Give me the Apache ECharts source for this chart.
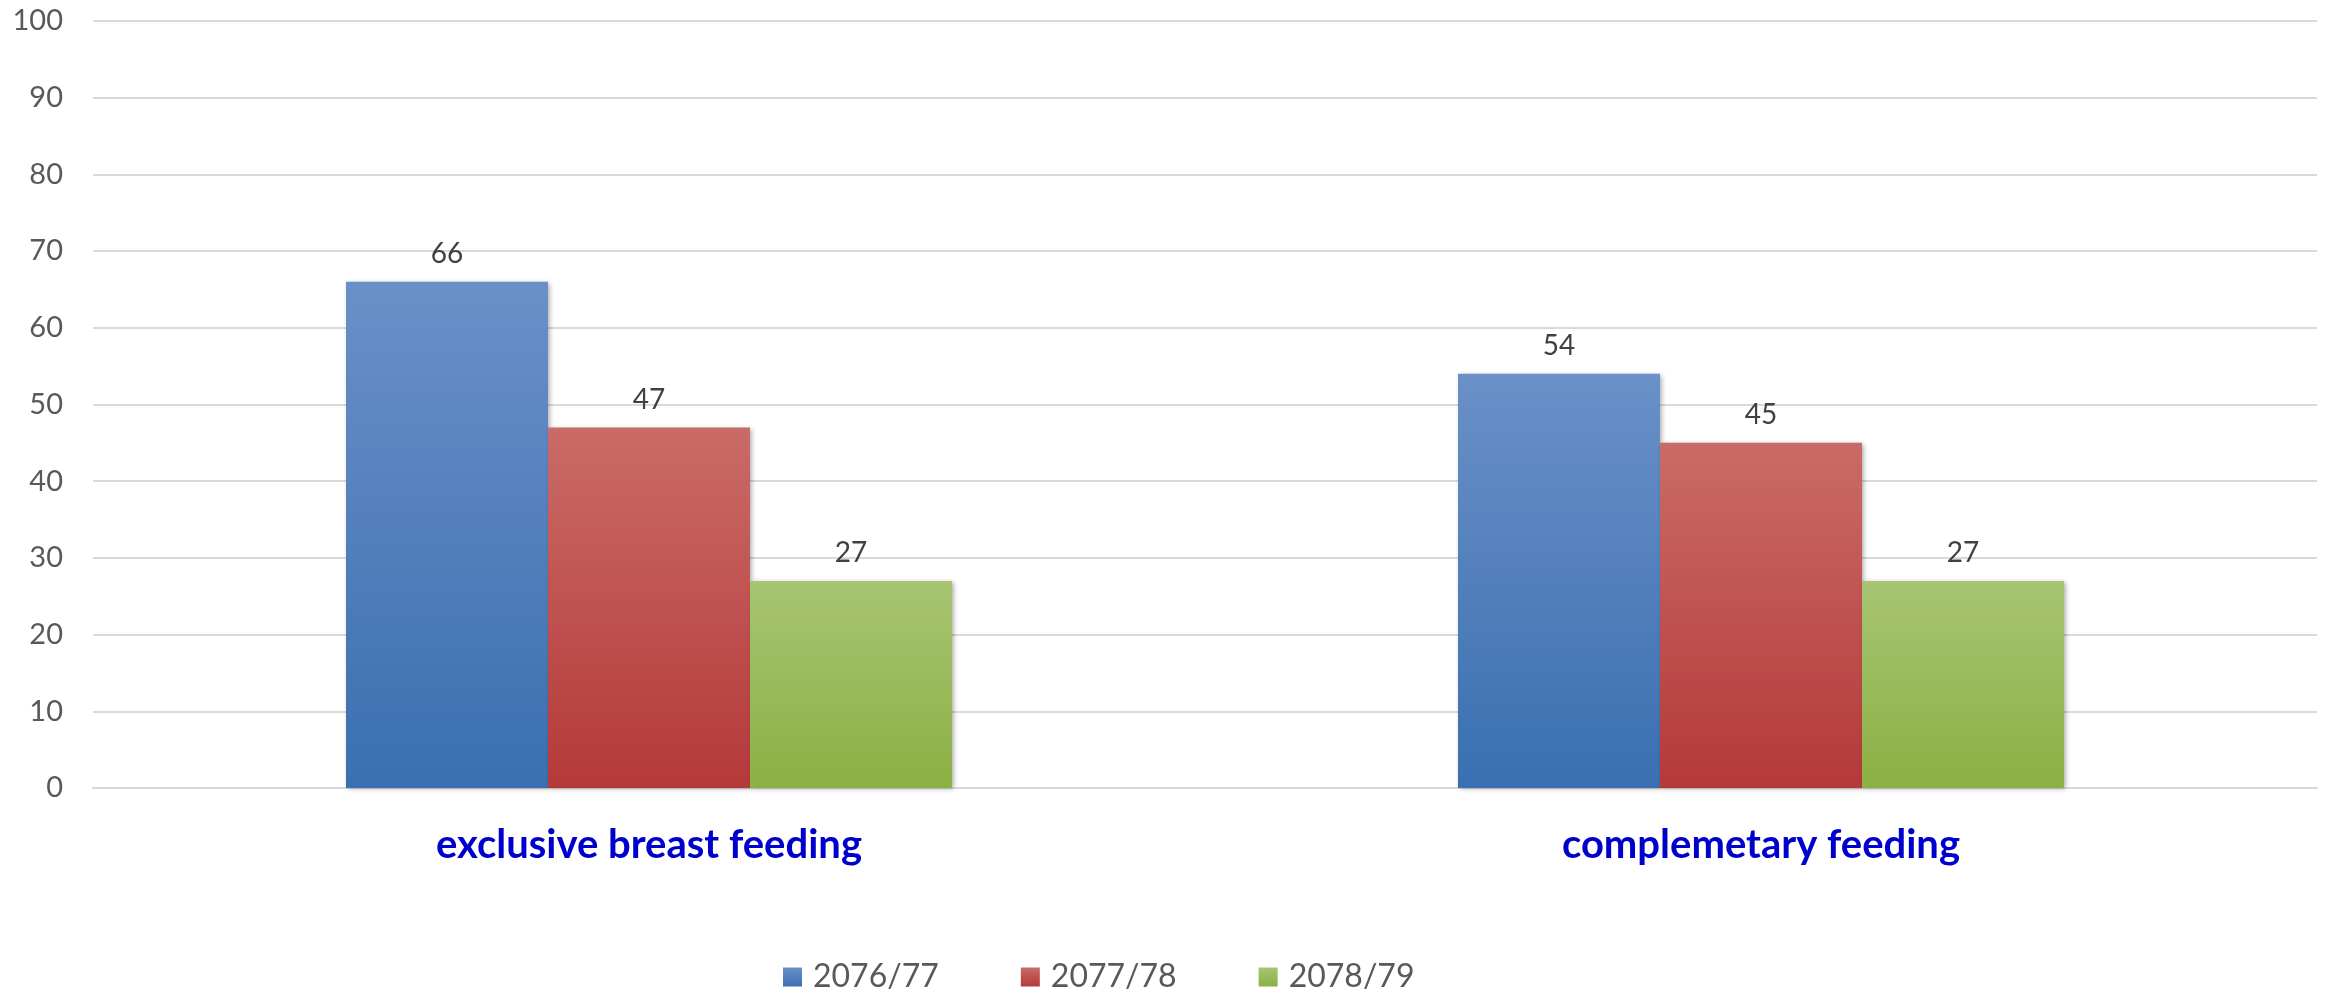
<!DOCTYPE html>
<html>
<head>
<meta charset="utf-8">
<script src="https://cdn.jsdelivr.net/npm/echarts@6/dist/echarts.min.js"></script>
<style>
    html, body { margin: 0; padding: 0; background: #fff; }
    #main { width: 2331px; height: 993px; }
</style>
</head>
<body>
<div id="main"></div>
<script>
    // 数据
    const categories = ['exclusive breast feeding', 'complemetary feeding'];
    const seriesNames = ['2076/77', '2077/78', '2078/79'];
    const v2076 = [66, 54];
    const v2077 = [47, 45];
    const v2078 = [27, 27];

    // 颜色 (上, 下)
    const colors = [
        ['#6a90c7', '#3a6fb1'],
        ['#c96b67', '#b5393a'],
        ['#a7c572', '#8bb043']
    ];

    const myChart = echarts.init(document.getElementById('main'));

    const makeSeries = (name, data, c) => ({
        name: name,
        type: 'bar',
        data: data,
        barGap: '0%',
        barCategoryGap: '45.5%',
        itemStyle: {
            color: new echarts.graphic.LinearGradient(0, 0, 0, 1, [
                { offset: 0, color: c[0] },
                { offset: 1, color: c[1] }
            ]),
            shadowColor: 'rgba(0,0,0,0.35)',
            shadowBlur: 5,
            shadowOffsetX: 2,
            shadowOffsetY: 1
        },
        label: {
            show: true,
            position: 'top',
            distance: 14,
            color: '#404040',
            fontFamily: 'Lato',
            fontSize: 28
        }
    });

    const option = {
        animation: false,
        backgroundColor: '#fff',
        grid: {
            left: 93,
            right: 14,
            top: 21,
            bottom: 205
        },
        legend: {
            data: seriesNames,
            icon: 'rect',
            left: 778,
            top: 956,
            itemWidth: 19,
            itemHeight: 19,
            itemGap: 82,
            textStyle: {
                color: '#595959',
                fontFamily: 'Lato',
                fontSize: 32,
                padding: [0, 0, 0, 6]
            }
        },
        xAxis: {
            type: 'category',
            data: categories,
            axisLine: { lineStyle: { color: '#d9d9d9', width: 2 } },
            axisTick: { show: false },
            axisLabel: {
                margin: 37,
                color: '#0000cc',
                fontFamily: 'Lato',
                fontWeight: 'bold',
                fontSize: 40
            }
        },
        yAxis: {
            type: 'value',
            min: 0,
            max: 100,
            interval: 10,
            axisLine: { show: false },
            axisTick: { show: false },
            splitLine: { lineStyle: { color: '#d9d9d9', width: 2 } },
            axisLabel: {
                margin: 30,
                color: '#595959',
                fontFamily: 'Lato',
                fontSize: 29
            }
        },
        series: [
            makeSeries(seriesNames[0], v2076, colors[0]),
            makeSeries(seriesNames[1], v2077, colors[1]),
            makeSeries(seriesNames[2], v2078, colors[2])
        ]
    };

    myChart.setOption(option);
</script>
</body>
</html>
